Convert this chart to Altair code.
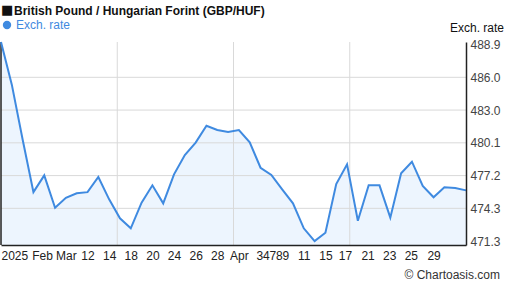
import altair as alt
import pandas as pd

# ---- data ----
rates = [489.10, 485.30, 480.40, 475.70, 477.20, 474.30, 475.20, 475.60, 475.70, 477.05,
         475.06, 473.36, 472.47, 474.76, 476.31, 474.70, 477.29, 479.02, 480.12, 481.63,
         481.25, 481.07, 481.25, 480.15, 477.88, 477.23, 475.95, 474.70, 472.47, 471.33,
         472.07, 476.42, 478.18, 473.15, 476.31, 476.31, 473.42, 477.38, 478.42, 476.25,
         475.24, 476.13, 476.07, 475.86]
series_name = "Exch. rate"

x_label_pos = [0, 3.8, 6, 8, 10, 12, 14, 16, 18, 20, 22, 23.9, 24.5, 25.1, 25.7, 26.3,
               28, 30, 31.8, 33.9, 35.9, 37.9, 40]
x_label_text = ["2025", "Feb", "Mar", "12", "14", "18", "20", "24", "26", "28", "Apr",
                "3", "4", "7", "8", "9", "11", "15", "17", "21", "23", "25", "29"]
x_grid = [10.75, 21.5, 32.25]

y_ticks = [471.33, 474.255, 477.18, 480.105, 483.03, 485.955, 488.88]
y_grid = [474.255, 477.18, 480.105, 483.03, 485.955]
y_domain = [470.98, 489.11]

title_square = "\u25A0"
title_text = "British Pound / Hungarian Forint (GBP/HUF)"
credit_text = "\u00A9 Chartoasis.com"

# ---- tables ----
df = pd.DataFrame({"idx": list(range(len(rates))), "rate": rates, "series": [series_name] * len(rates)})
vgrid_df = pd.DataFrame({"idx": x_grid})
hgrid_df = pd.DataFrame({"rate": y_grid})
left_df = pd.DataFrame({"idx": [0]})

FONT = "Liberation Sans"
BLUE = "#3f8ae0"
FILL = "#edf5fe"
GRID = "#d9d9d9"
AXIS = "#222222"

label_map = "{" + ",".join(f"'{p:g}':'{t}'" for p, t in zip(x_label_pos, x_label_text)) + "}"

x_scale = alt.Scale(domain=[0, len(rates) - 1], nice=False, zero=False)
y_scale = alt.Scale(domain=y_domain, nice=False, zero=False)

x_axis = alt.Axis(values=x_label_pos, labelExpr=label_map + "[toString(datum.value)]",
                  grid=False, ticks=False, labelOverlap=False, labelFlush=True,
                  labelPadding=5, labelFont=FONT, labelFontSize=12, labelColor="#222222",
                  title=None, domainColor=AXIS, domainWidth=1.5, zindex=1)
y_axis = alt.Axis(orient="right", values=y_ticks, format=".1f", grid=False, ticks=False,
                  labelOverlap=False, labelFlush=False,
                  labelPadding=4, labelFont=FONT, labelFontSize=12, labelColor="#444444",
                  domainColor=AXIS, domainWidth=1.5, zindex=1,
                  title=series_name, titleAngle=0, titleX=10.5, titleY=-15,
                  titleAlign="center", titleBaseline="middle", titleFont=FONT,
                  titleFontSize=12, titleFontWeight="normal", titleColor="#111111")


def X():
    return alt.X("idx:Q", scale=x_scale, axis=x_axis)


def Y():
    return alt.Y("rate:Q", scale=y_scale, axis=y_axis)


area = alt.Chart(df).mark_area(color=FILL, opacity=1, clip=True).encode(
    x=X(), y=Y(), y2=alt.datum(y_domain[0]),
)

vgrid = alt.Chart(vgrid_df).mark_rule(color=GRID, strokeWidth=1).encode(x=X())
hgrid = alt.Chart(hgrid_df).mark_rule(color=GRID, strokeWidth=1).encode(y=Y())
left_border = alt.Chart(left_df).mark_rule(color=AXIS, strokeWidth=1.5).encode(x=X())

line = alt.Chart(df).mark_line(strokeWidth=2).encode(
    x=X(), y=Y(),
    color=alt.Color("series:N", scale=alt.Scale(range=[BLUE]),
                    legend=alt.Legend(title=None, orient="none", legendX=0, legendY=-23,
                                      symbolType="circle", symbolFillColor=BLUE,
                                      symbolStrokeColor=BLUE, symbolStrokeWidth=0,
                                      symbolSize=70, labelColor=BLUE, labelFont=FONT,
                                      labelFontSize=12, labelOffset=3, padding=0)),
)

square = alt.Chart(pd.DataFrame({"t": [title_square]})).mark_text(
    align="left", baseline="middle", font="DejaVu Sans", fontSize=13, color="#111111"
).encode(text="t:N", x=alt.value(0), y=alt.value(-32))

title = alt.Chart(pd.DataFrame({"t": [title_text]})).mark_text(
    align="left", baseline="middle", font=FONT, fontSize=12, fontWeight="bold", color="#111111"
).encode(text="t:N", x=alt.value(13), y=alt.value(-31.5))

credit = alt.Chart(pd.DataFrame({"t": [credit_text]})).mark_text(
    align="right", baseline="middle", font=FONT, fontSize=12, color="#333333"
).encode(text="t:N", x=alt.value(499), y=alt.value(233))

chart = alt.layer(area, vgrid, hgrid, left_border, line, square, title, credit).properties(
    width=465, height=203,
    autosize=alt.AutoSizeParams(type="none"),
    padding={"left": 1, "top": 42, "right": 41, "bottom": 43},
).configure_view(stroke=None).configure_axis(labelOverlap=False)

chart.save("out.html", embed_options={"renderer": "svg", "actions": False})
